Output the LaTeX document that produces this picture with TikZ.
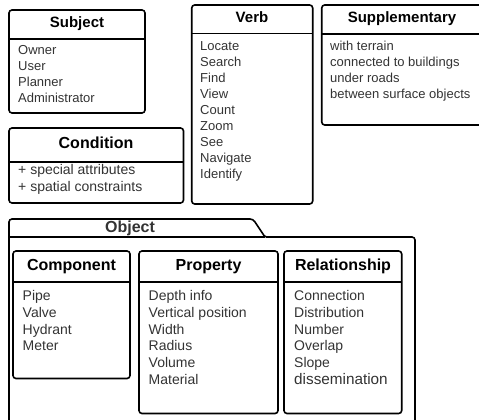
\documentclass[tikz,border=0pt]{standalone}
\usepackage{fontspec}
\setmainfont{Liberation Sans}
\definecolor{itemgray}{HTML}{333333}
\tikzset{
  box/.style={draw, line width=1.6pt, rounded corners=3pt},
  sep/.style={line width=1.6pt},
  title/.style={anchor=base, inner sep=0pt, font=\bfseries\fontsize{15}{18}\selectfont},
  bigtitle/.style={title, font=\bfseries\fontsize{16}{19}\selectfont},
  item/.style={anchor=base west, inner sep=0pt, text=itemgray, font=\fontsize{13}{16}\selectfont},
  bigitem/.style={item, font=\fontsize{14}{17}\selectfont},
}
\begin{document}
\begin{tikzpicture}[x=1pt, y=-1pt]
\useasboundingbox (0,0) rectangle (479,420);
\clip (0,0) rectangle (479,420);

% ===== Subject =====
\draw[box] (9,10) rectangle (145,113);
\draw[sep] (9,39) -- (145,39);
\node[title] (subject) at (77,27.3) {Subject};
\foreach \t [count=\i] in {Owner,User,Planner,Administrator}
    \node[item] (subject-\i) at (18,38.6+16*\i) {\t};

% ===== Condition =====
\draw[box] (9,128) rectangle (183.5,203);
\draw[sep] (9,162) -- (183.5,162);
\node[bigtitle] (condition) at (96,148.3) {Condition};
\node[bigitem] (condition-1) at (18,174.7) {+ special attributes};
\node[bigitem] (condition-2) at (18,191.7) {+ spatial constraints};

% ===== Verb =====
\draw[box] (191.7,5) rectangle (312.7,204);
\draw[sep] (191.7,33.5) -- (312.7,33.5);
\node[title] (verb) at (252,22.7) {Verb};
\foreach \t [count=\i] in {Locate,Search,Find,View,Count,Zoom,See,Navigate,Identify}
    \node[item] (verb-\i) at (200,34.3+16*\i) {\t};

% ===== Supplementary =====
\draw[box] (321.7,5) rectangle (484,125);
\draw[sep] (321.7,34) -- (484,34);
\node[title] (supplementary) at (402,23) {Supplementary};
\foreach \t [count=\i] in {with terrain,connected to buildings,under roads,between surface objects}
    \node[item] (supplementary-\i) at (330,34.3+16*\i) {\t};

% ===== Object (package) =====
\draw[line width=1.6pt, rounded corners=3pt]
    (9,430) -- (9,219) -- (253,219) [rounded corners=1.5pt]-- (265,237)
    [rounded corners=3pt]-- (415,237) -- (415,430);
\draw[sep] (9,237) -- (265,237);
\node[bigtitle, text=itemgray] (object) at (130,232.3) {Object};

% ===== Component =====
\draw[box] (13,251) rectangle (130,378.5);
\draw[sep] (13,282) -- (130,282);
\node[bigtitle] (component) at (71.5,270.7) {Component};
\foreach \t [count=\i] in {Pipe,Valve,Hydrant,Meter}
    \node[bigitem] (component-\i) at (22.5,283.3+16.9*\i) {\t};

% ===== Property =====
\draw[box] (139,251) rectangle (278,413.5);
\draw[sep] (139,282) -- (278,282);
\node[bigtitle] (property) at (208.5,270.7) {Property};
\foreach \t [count=\i] in {Depth info,Vertical position,Width,Radius,Volume,Material}
    \node[bigitem] (property-\i) at (148.5,283.3+16.9*\i) {\t};

% ===== Relationship =====
\draw[box] (284,251) rectangle (401.7,413.5);
\draw[sep] (284,282) -- (401.7,282);
\node[bigtitle] (relationship) at (343,270.7) {Relationship};
\foreach \t [count=\i] in {Connection,Distribution,Number,Overlap,Slope}
    \node[bigitem] (relationship-\i) at (294,283.3+16.9*\i) {\t};
\node[item, font=\fontsize{15.3}{18}\selectfont] (relationship-6) at (294,384.8) {dissemination};

\end{tikzpicture}
\end{document}
